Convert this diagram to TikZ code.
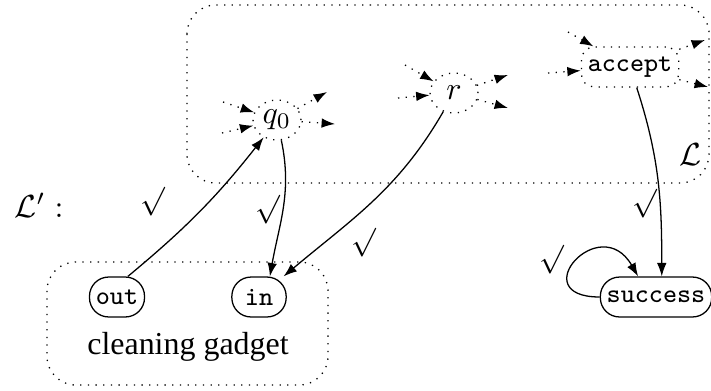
\documentclass[tikz,border=0pt]{standalone}
\usepackage{fontspec}
\setmainfont{Liberation Serif}
\usetikzlibrary{arrows.meta,shapes.geometric}
\begin{document}
\begin{tikzpicture}[x=0.011cm,y=-0.011cm,
  ghost/.style={ellipse,dotted,draw,inner sep=0pt,minimum width=15pt,minimum height=12.5pt},
  ttbox/.style={rectangle,rounded corners=6pt,draw,font=\fontsize{8.3}{10}\selectfont\ttfamily,
    inner xsep=2pt,inner ysep=0pt,minimum height=12.5pt,minimum width=17pt},
  stub/.style={dotted,-{Latex[length=4.2pt,width=3pt]}},
  trans/.style={-{Latex[length=4.2pt,width=3pt]}},
  region/.style={dotted,rounded corners=9pt},
  tick/.style={font=\small}]
	\useasboundingbox (0,0) rectangle (711,390);
	\draw[region] (187,5) rectangle (709,183);
	\draw[region] (47,262) rectangle (328,385);
	\node[ghost] (q0) at (277,120) {$q_0$};
	\node[ghost] (r) at (454,93) {$r$};
	\node[ttbox,dotted,rounded corners=4pt] (accept) at (630,67) {accept};
	\node[ttbox] (out) at (117,297) {out};
	\node[ttbox] (in) at (259,297) {in};
	\node[ttbox] (success) at (656,297) {success};
	\node (gadget) at (188,347) {cleaning gadget};
	\node (lprime) at (39,205) {$\mathcal{L}' :$};
	\node (lang) at (690,155) {$\mathcal{L}$};
	\coordinate (q0a) at (223,102); \coordinate (q0b) at (222,133);
	\coordinate (q0c) at (327,92); \coordinate (q0d) at (335,124);
	\coordinate (ra) at (405,65); \coordinate (rb) at (398,98);
	\coordinate (rc) at (508,75); \coordinate (rd) at (508,108);
	\coordinate (acca) at (568,32); \coordinate (accb) at (548,73);
	\coordinate (accc) at (705,40); \coordinate (accd) at (708,87);
	\foreach \s/\n in {q0a/q0,q0b/q0,ra/r,rb/r,acca/accept,accb/accept}
		\draw[stub] (\s) -- (\n);
	\foreach \n/\t in {q0/q0c,q0/q0d,r/rc,r/rd,accept/accc,accept/accd}
		\draw[stub] (\n) -- (\t);
	\draw[trans] ([xshift=3.4pt]out.north) to[bend right=6] (q0);
	\draw[trans] (q0) to[out=-78,in=80] ([xshift=3.4pt]in.north);
	\draw[trans] (r) to[out=-120,in=40] (in);
	\draw[trans] (accept) to[out=-72,in=90] ([xshift=1.8pt]success.north);
	\draw[trans] (success.west) to[out=180,in=120,looseness=4.5] ([xshift=-5.6pt]success.north);
	\node[tick] (t1) at (153,202) {$\surd$};
	\node[tick] (t2) at (268,210) {$\surd$};
	\node[tick] (t3) at (364,243) {$\surd$};
	\node[tick] (t4) at (645,204) {$\surd$};
	\node[tick] (t5) at (552,260) {$\surd$};
\end{tikzpicture}
\end{document}
